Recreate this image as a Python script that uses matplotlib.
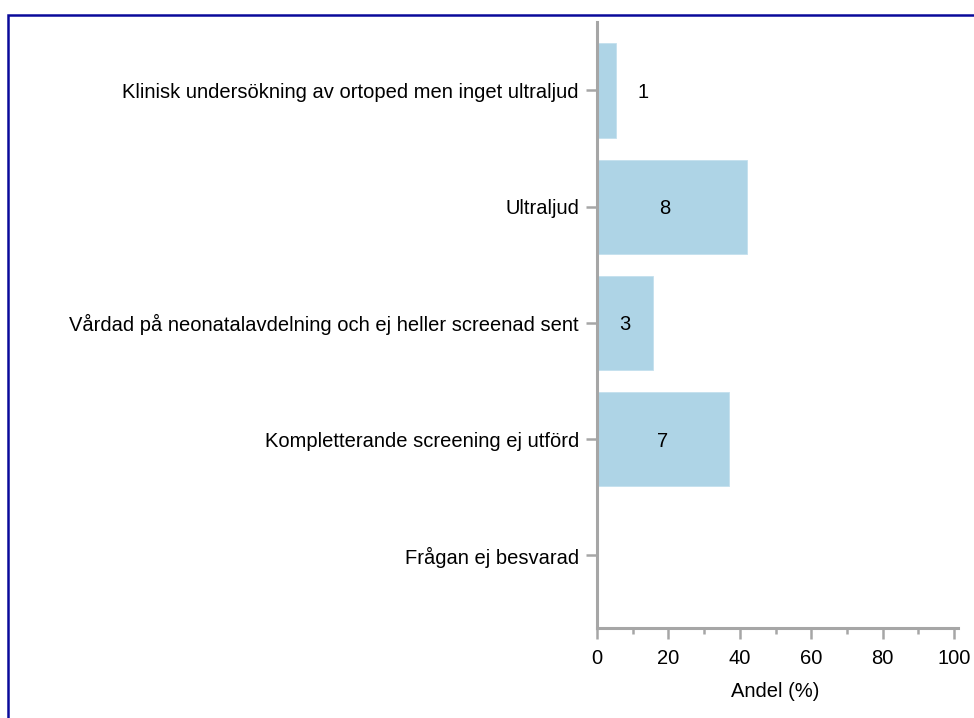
import matplotlib
matplotlib.use("Agg")
import matplotlib.pyplot as plt
from matplotlib.patches import Rectangle
from matplotlib.ticker import MultipleLocator

plt.rcParams['font.family'] = ['Liberation Sans', 'DejaVu Sans']

# data
categories = [
    "Klinisk undersökning av ortoped men inget ultraljud",
    "Ultraljud",
    "Vårdad på neonatalavdelning och ej heller screenad sent",
    "Kompletterande screening ej utförd",
    "Frågan ej besvarad",
]
counts = [1, 8, 3, 7, 0]
total = sum(counts)
pct = [100.0 * c / total for c in counts]

grey = '#a6a6a6'
barcol = '#aed4e6'
fs = 14.5

fig = plt.figure(figsize=(9.74, 7.18), dpi=100)
ax = fig.add_axes([597/974, 1 - 628/718, (954-597)/974, (628-22)/718])

ypos = list(range(len(categories)))
ax.barh(ypos, pct, height=0.81, color=barcol, edgecolor='#c4e0ee', linewidth=0.6, zorder=2)

# count labels
for y, p, c in zip(ypos, pct, counts):
    if c == 0:
        continue
    if p > 10:
        x = min(p / 2, 19)
    else:
        x = p + 7.5
    ax.text(x, y, str(c), ha='center', va='center_baseline', fontsize=fs, color='black', zorder=3)

ax.set_xlim(0, 100)
ax.set_ylim(4.624, -0.589)
ax.set_yticks(ypos)
ax.set_yticklabels(categories, fontsize=fs)
ax.set_xticks([0, 20, 40, 60, 80, 100])
ax.xaxis.set_minor_locator(MultipleLocator(10))
ax.tick_params(axis='x', labelsize=fs, length=8, width=1.8, color=grey, pad=7)
ax.tick_params(axis='x', which='minor', length=4, width=1.8, color=grey)
ax.tick_params(axis='y', length=8, width=1.8, color=grey, pad=5)
ax.set_xlabel("Andel (%)", fontsize=fs, labelpad=10)

for s in ['top', 'right']:
    ax.spines[s].set_visible(False)
for s in ['left', 'bottom']:
    ax.spines[s].set_color(grey)
    ax.spines[s].set_linewidth(2.2)
ax.spines['bottom'].set_bounds(0, 101)

# frame around the figure (right/bottom edges cut off)
fig.add_artist(Rectangle((8/974, -0.05), 1.2, 1 - 14.5/718 + 0.05,
                         transform=fig.transFigure, fill=False,
                         edgecolor='#0a0a9a', linewidth=1.8))

fig.savefig("out.png", dpi=100)
